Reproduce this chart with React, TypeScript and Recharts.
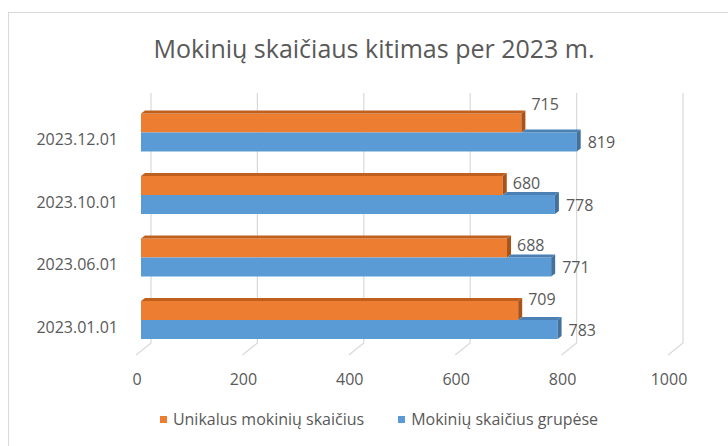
import React from "react";
import { BarChart, Bar, XAxis, YAxis, CartesianGrid, Legend, LabelList } from "recharts";

const dates = ["2023.01.01", "2023.06.01", "2023.10.01", "2023.12.01"];
const uniqueCounts = [709, 688, 680, 715];
const groupCounts = [783, 771, 778, 819];
const xTicks = [0, 200, 400, 600, 800, 1000];

const seriesNames = ["Unikalus mokinių skaičius", "Mokinių skaičius grupėse"];

const data = dates.map((date, i) => ({ date, unique: uniqueCounts[i], groups: groupCounts[i] }));

const FONT = "'Open Sans', 'Noto Sans', sans-serif";
const TEXT = "#595959";
const ORANGE = { front: "#ED7D31", top: "#C0601F", side: "#A9531B" };
const BLUE = { front: "#5B9BD5", top: "#4A80B4", side: "#41719C" };

// depth of the fake 3D box
const DX = 4;
const DY = 3;

function Box3D(props: any) {
  const { x, y, width, height, colors, topStart } = props;
  const x2 = x + width;
  const ts = topStart ?? x;
  return (
    <g>
      <rect x={x} y={y} width={width} height={height} fill={colors.front} />
      {x2 > ts && (
        <path d={`M${ts},${y} L${ts + DX},${y - DY} L${x2 + DX},${y - DY} L${x2},${y} Z`} fill={colors.top} />
      )}
      <path d={`M${x2},${y} L${x2 + DX},${y - DY} L${x2 + DX},${y + height - DY} L${x2},${y + height} Z`} fill={colors.side} />
    </g>
  );
}

// Excel placed the orange labels a bit unevenly
const orangeLift = [-12, -3, -3, -19];

function OrangeLabel(props: any) {
  const { x, y, width, height, value, index } = props;
  return (
    <text x={x + width + 10} y={y + height / 2 + orangeLift[index]} dominantBaseline="central" fill={TEXT} fontSize={16} fontFamily={FONT}>
      {value}
    </text>
  );
}

function BlueLabel(props: any) {
  const { x, y, width, height, value } = props;
  return (
    <text x={x + width + 11} y={y + height / 2} dominantBaseline="central" fill={TEXT} fontSize={16} fontFamily={FONT}>
      {value}
    </text>
  );
}

function GridLine(props: any) {
  const { x1, y1, y2 } = props;
  return (
    <path
      key={props.key}
      d={`M${x1 + 10},${y1 - 8} V${y2 - 8} L${x1 - 5},${y2 + 4}`}
      stroke="#D9D9D9"
      strokeWidth={1.2}
      fill="none"
    />
  );
}

function CategoryTick(props: any) {
  const { y, payload } = props;
  return (
    <text x={118} y={y + 7} textAnchor="end" dominantBaseline="central" fill={TEXT} fontSize={16} fontFamily={FONT}>
      {payload.value}
    </text>
  );
}

function ValueTick(props: any) {
  const { x, y, payload } = props;
  return (
    <text x={x - 4} y={y + 20} textAnchor="middle" dominantBaseline="central" fill={TEXT} fontSize={16} fontFamily={FONT}>
      {payload.value}
    </text>
  );
}

function LegendContent() {
  const items = [
    { name: seriesNames[0], color: ORANGE.front },
    { name: seriesNames[1], color: BLUE.front },
  ];
  return (
    <div style={{ display: "flex", justifyContent: "center", gap: 34, paddingLeft: 30, fontFamily: FONT, fontSize: 16, color: TEXT }}>
      {items.map((it) => (
        <div key={it.name} style={{ display: "flex", alignItems: "center" }}>
          <span style={{ width: 7, height: 7, background: it.color, marginRight: 6, display: "inline-block" }} />
          {it.name}
        </div>
      ))}
    </div>
  );
}

export default function App() {
  return (
    <div style={{ position: "absolute", left: 0, top: 0, width: 728, height: 446, overflow: "hidden", background: "#fff" }}>
      <div style={{ position: "absolute", left: 8, top: 12, width: 900, height: 600, border: "1px solid #D9D9D9" }} />
      <div
        style={{
          position: "absolute",
          left: 0,
          top: 31,
          width: 748,
          textAlign: "center",
          fontFamily: FONT,
          fontSize: 25,
          color: TEXT,
        }}
      >
        Mokinių skaičiaus kitimas per 2023 m.
      </div>
      <div style={{ position: "absolute", left: 0, top: 0 }}>
        <BarChart
          width={728}
          height={446}
          data={data}
          layout="vertical"
          margin={{ top: 101, right: 55, bottom: 33, left: 31 }}
          barCategoryGap="20%"
          barGap={0}
        >
          <CartesianGrid horizontal={false} vertical={GridLine} />
          <XAxis
            type="number"
            domain={[0, 1000]}
            ticks={xTicks}
            axisLine={false}
            tickLine={false}
            height={40}
            tick={<ValueTick />}
          />
          <YAxis
            type="category"
            dataKey="date"
            reversed
            width={110}
            axisLine={false}
            tickLine={false}
            tick={<CategoryTick />}
          />
          <Legend
            verticalAlign="bottom"
            content={<LegendContent />}
            wrapperStyle={{ position: "absolute", left: 0, top: 408, width: 728, height: 22 }}
          />
          <Bar
            dataKey="unique"
            name={seriesNames[0]}
            fill={ORANGE.front}
            isAnimationActive={false}
            shape={(p: any) => <Box3D {...p} colors={ORANGE} />}
          >
            <LabelList dataKey="unique" content={<OrangeLabel />} />
          </Bar>
          <Bar
            dataKey="groups"
            name={seriesNames[1]}
            fill={BLUE.front}
            isAnimationActive={false}
            shape={(p: any) => (
              <Box3D {...p} colors={BLUE} topStart={p.x + (p.payload.unique * p.width) / p.value} />
            )}
          >
            <LabelList dataKey="groups" content={<BlueLabel />} />
          </Bar>
        </BarChart>
      </div>
    </div>
  );
}
